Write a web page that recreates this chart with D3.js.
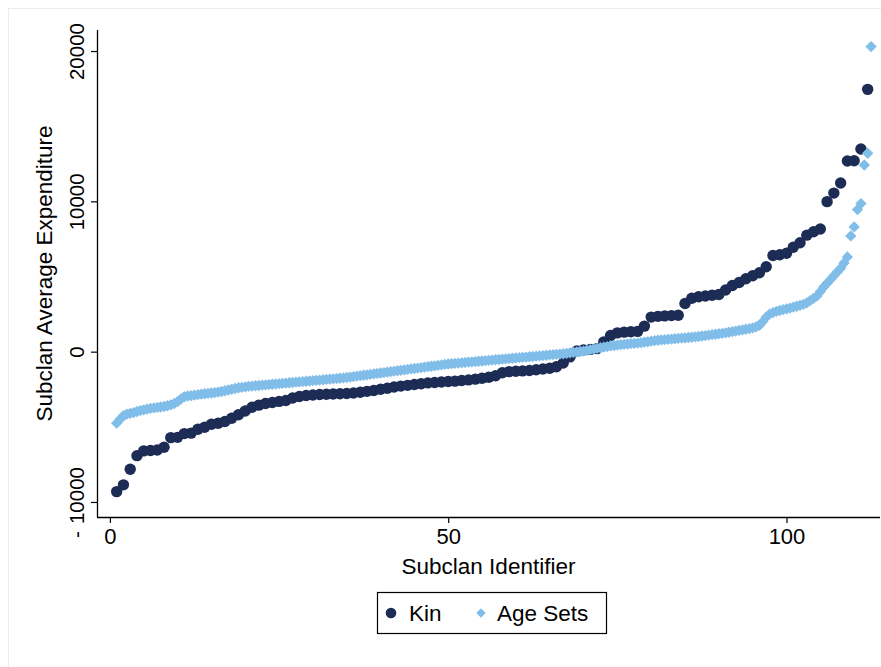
<!DOCTYPE html>
<html><head><meta charset="utf-8">
<script src="https://cdn.jsdelivr.net/npm/d3@7"></script>
<style>
body{margin:0;background:#fff;}
svg{display:block;font-family:"Liberation Sans",Arial,Helvetica,sans-serif;}
</style>
</head><body>
<svg id="chart" width="881" height="667"></svg>
<script>
// Kin: sorted subclan averages, identifiers 1..112
const kinValues = [
  -9310,-8860,-7820,-6920,-6600,-6580,-6540,-6360,-5720,-5700,
  -5450,-5420,-5160,-5030,-4830,-4760,-4650,-4430,-4200,-3950,
  -3700,-3560,-3450,-3380,-3310,-3250,-3080,-2980,-2920,-2880,
  -2850,-2830,-2820,-2800,-2780,-2750,-2700,-2640,-2580,-2500,
  -2430,-2350,-2290,-2240,-2180,-2130,-2080,-2050,-2020,-1990,
  -1960,-1920,-1880,-1830,-1770,-1700,-1600,-1400,-1330,-1300,
  -1280,-1250,-1200,-1150,-1100,-1000,-750,-350,50,120,
  150,200,650,1080,1250,1300,1320,1350,1700,2300,
  2350,2380,2400,2420,3200,3550,3650,3700,3750,3800,
  4100,4400,4600,4850,5050,5250,5650,6400,6450,6550,
  6950,7250,7750,7980,8160,9980,10550,11220,12680,12700,
  13480,17450
];
// Age Sets: sorted averages, identifiers 1, 1.5, 2, ... 112.5
const ageSetValues = [
  -4760,-4500,-4250,-4150,-4100,-4050,-3980,-3920,-3870,-3820,
  -3770,-3740,-3710,-3680,-3650,-3600,-3540,-3450,-3330,-3150,
  -3000,-2950,-2920,-2890,-2860,-2830,-2800,-2780,-2750,-2720,
  -2690,-2650,-2600,-2550,-2500,-2450,-2400,-2370,-2340,-2310,
  -2290,-2270,-2250,-2230,-2210,-2190,-2170,-2150,-2130,-2110,
  -2090,-2070,-2050,-2030,-2010,-1990,-1970,-1950,-1930,-1910,
  -1890,-1870,-1850,-1830,-1810,-1790,-1770,-1750,-1720,-1690,
  -1660,-1630,-1600,-1570,-1540,-1510,-1480,-1450,-1420,-1390,
  -1360,-1330,-1300,-1270,-1240,-1210,-1180,-1150,-1120,-1090,
  -1060,-1030,-1000,-970,-940,-910,-880,-850,-820,-800,
  -780,-760,-740,-720,-700,-680,-660,-640,-620,-600,
  -580,-560,-540,-520,-500,-480,-460,-440,-420,-400,
  -380,-360,-340,-320,-300,-280,-260,-240,-220,-200,
  -180,-160,-140,-110,-80,-50,-20,10,40,80,
  130,170,220,260,300,340,380,410,440,470,
  490,510,530,550,570,600,630,660,700,730,
  760,780,800,820,840,860,880,900,920,940,
  960,985,1010,1040,1070,1100,1130,1160,1190,1220,
  1250,1290,1330,1370,1410,1450,1490,1530,1580,1650,
  1750,2000,2300,2500,2600,2680,2740,2800,2850,2900,
  2960,3020,3080,3150,3250,3400,3550,3700,4000,4300,
  4550,4800,5050,5300,5550,5900,6300,7700,8300,9450,
  9850,12420,13200,20300
];
const kinStart = 1, kinStep = 1;
const ageStart = 1, ageStep = 0.5;
const yTickValues = [-10000, 0, 10000, 20000];
const xTickValues = [0, 50, 100];
const seriesNames = ["Kin", "Age Sets"];
const seriesColors = ["#1d2c54", "#80bde8"];
const xTitle = "Subclan Identifier";
const yTitle = "Subclan Average Expenditure";

const svg = d3.select("#chart");
const pLeft = 97, pRight = 880, pTop = 30, pBottom = 517;

// faint graph-region border
svg.append("rect").attr("x", 8.5).attr("y", 8.5).attr("width", 900).attr("height", 700)
  .attr("fill", "none").attr("stroke", "#ececec").attr("stroke-width", 1);

const x = d3.scaleLinear().domain([-1.907, 113.82]).range([pLeft, pRight]);
const y = d3.scaleLinear().domain([-11000, 21400]).range([pBottom, pTop]);

const kinData = kinValues.map((v, i) => ({x: kinStart + i * kinStep, y: v}));
const ageData = ageSetValues.map((v, i) => ({x: ageStart + i * ageStep, y: v}));

// axes
const yAxis = d3.axisLeft(y).tickValues(yTickValues).tickSize(6).tickSizeOuter(0).tickFormat(() => "");
const gy = svg.append("g").attr("transform", `translate(${pLeft},0)`).call(yAxis);
gy.attr("font-family", null).attr("font-size", null);
gy.select(".domain").attr("stroke", "#000").attr("stroke-width", 1.3).attr("d", `M0.5,${pTop}V${pBottom}`);
gy.selectAll(".tick line").attr("stroke", "#000").attr("stroke-width", 1.2);
gy.selectAll(".tick text").remove();
gy.selectAll(".tick").each(function(d) {
  const t = d3.select(this).append("text")
    .attr("transform", "rotate(-90)")
    .attr("x", 0).attr("y", -13)
    .attr("text-anchor", "middle")
    .attr("fill", "#000")
    .style("font-size", "20.5px");
  if (d < 0) {
    t.append("tspan").text("-");
    t.append("tspan").attr("dx", 7).text(String(Math.abs(d)));
  } else {
    t.text(String(d));
  }
});

const xAxis = d3.axisBottom(x).tickValues(xTickValues).tickSize(6).tickSizeOuter(0).tickFormat(d => String(d));
const gx = svg.append("g").attr("transform", `translate(0,${pBottom})`).call(xAxis);
gx.attr("font-family", null).attr("font-size", null);
gx.select(".domain").attr("stroke", "#000").attr("stroke-width", 1.3).attr("d", `M${pLeft},0.5H${pRight}`);
gx.selectAll(".tick line").attr("stroke", "#000").attr("stroke-width", 1.2);
gx.selectAll(".tick text").attr("fill", "#000").attr("y", 11).style("font-size", "22px");

// titles
svg.append("text").attr("x", (pLeft + pRight) / 2).attr("y", 574).attr("text-anchor", "middle")
  .style("font-size", "22.5px").attr("fill", "#000").text(xTitle);
svg.append("text").attr("transform", `translate(52,${(pTop + pBottom) / 2}) rotate(-90)`)
  .attr("text-anchor", "middle").style("font-size", "22.5px").attr("fill", "#000").text(yTitle);

// marks
const diamond = d3.symbol(d3.symbolSquare, 64);
svg.append("g").selectAll("circle").data(kinData).join("circle")
  .attr("cx", d => x(d.x)).attr("cy", d => y(d.y)).attr("r", 5.7)
  .attr("fill", seriesColors[0]);
svg.append("g").selectAll("path").data(ageData).join("path")
  .attr("d", diamond)
  .attr("transform", d => `translate(${x(d.x)},${y(d.y)}) rotate(45)`)
  .attr("fill", seriesColors[1]);

// legend
const lg = svg.append("g");
lg.append("rect").attr("x", 377.5).attr("y", 592.5).attr("width", 229).attr("height", 41)
  .attr("fill", "#fff").attr("stroke", "#000").attr("stroke-width", 1.2);
lg.append("circle").attr("cx", 391).attr("cy", 613).attr("r", 5.3).attr("fill", seriesColors[0]);
lg.append("text").attr("x", 409).attr("y", 621).style("font-size", "22.5px").attr("fill", "#000").text(seriesNames[0]);
lg.append("path").attr("d", d3.symbol(d3.symbolSquare, 44)).attr("transform", "translate(481,613) rotate(45)")
  .attr("fill", seriesColors[1]);
lg.append("text").attr("x", 497).attr("y", 621).style("font-size", "22.5px").attr("fill", "#000").text(seriesNames[1]);
</script>
</body></html>
